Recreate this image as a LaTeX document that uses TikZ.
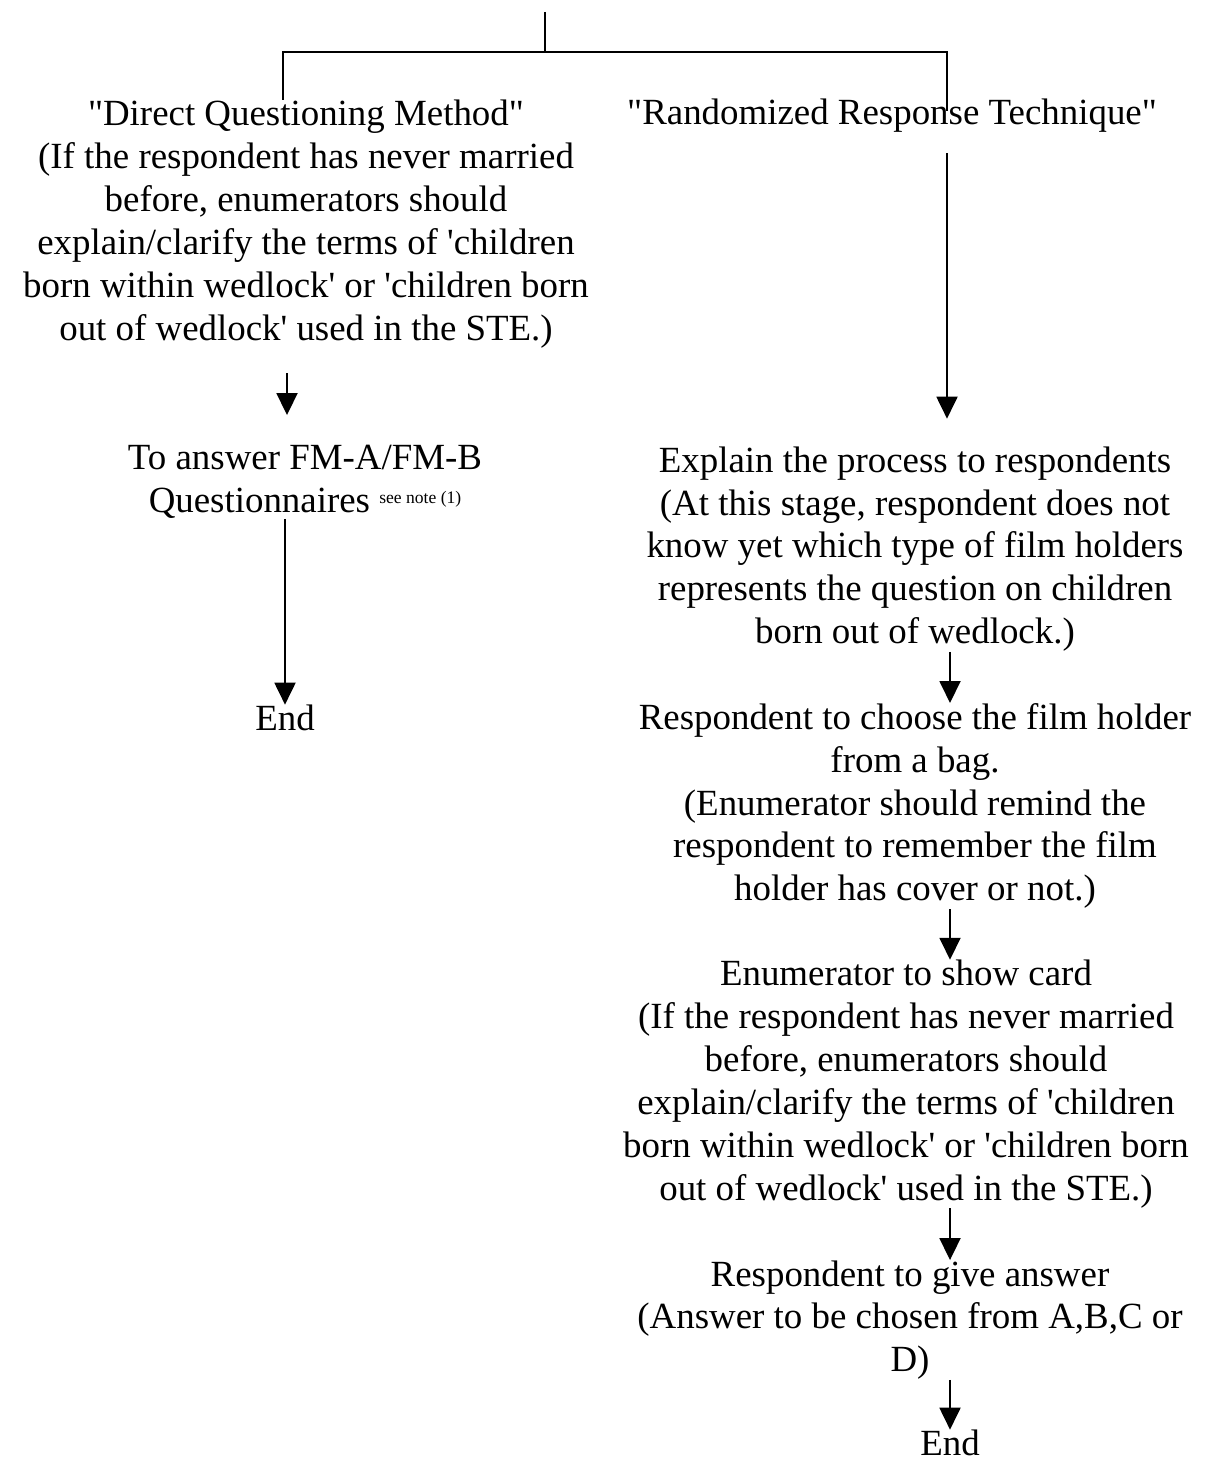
\documentclass[tikz,border=0pt]{standalone}
\usepackage{fontspec}
\setmainfont{Liberation Serif}[Ligatures=TeXOff]
\usetikzlibrary{arrows.meta}

\newcommand{\dq}{\symbol{34}}
\newcommand{\sq}{\symbol{39}}

\tikzset{
  txt/.style={align=center, inner sep=0pt, font=\fontsize{21pt}{24.4pt}\selectfont},
  flow/.style={line width=1.1pt, -{Triangle[length=0.44cm, width=0.42cm]}},
  branch/.style={line width=1.1pt}
}

\begin{document}
\begin{tikzpicture}[x=0.02cm, y=-0.02cm]
  \useasboundingbox (0,0) rectangle (1215,1463);

  % left branch
  \node[txt] (dq) at (306,224) {\dq Direct Questioning Method\dq\\(If the respondent has never married\\before, enumerators should\\explain/clarify the terms of \sq children\\born within wedlock\sq{} or \sq children born\\out of wedlock\sq{} used in the STE.)};
  \node[txt] (fm) at (305,482) {To answer FM-A/FM-B\\Questionnaires \raisebox{0.55ex}{\fontsize{10pt}{12pt}\selectfont see note (1)}};
  \node[txt] (endl) at (285,718) {End};

  % right branch
  \node[txt] (rr) at (892,116) {\dq Randomized Response Technique\dq};
  \node[txt] (ex) at (915,549) {Explain the process to respondents\\(At this stage, respondent does not\\know yet which type of film holders\\represents the question on children\\born out of wedlock.)};
  \node[txt] (ch) at (915,806) {Respondent to choose the film holder\\from a bag.\\(Enumerator should remind the\\respondent to remember the film\\holder has cover or not.)};
  \node[txt] (sc) at (906,1084) {Enumerator to show card\\(If the respondent has never married\\before, enumerators should\\explain/clarify the terms of \sq children\\born within wedlock\sq{} or \sq children born\\out of wedlock\sq{} used in the STE.)};
  \node[txt] (ga) at (910,1320) {Respondent to give answer\\(Answer to be chosen from A,B,C or\\D)};
  \node[txt] (endr) at (950,1443) {End};

  % split at the top
  \coordinate (top) at (545,12);
  \coordinate (split) at (545,52);
  \coordinate (lbr) at (283,52);
  \coordinate (rbr) at (947,52);
  \draw[branch] (top) -- (split);
  \draw[branch] (lbr |- dq.north) -- (lbr) -- (rbr) -- ([yshift=-0.24cm]rbr |- rr.north);

  % arrows
  \draw[flow, shorten <=0.5cm, shorten >=0.6cm] (dq.south -| 287,0) -- (fm.north -| 287,0);
  \draw[flow] (fm.south -| endl) -- (endl.north);
  \draw[flow, shorten <=0.4cm, shorten >=0.55cm] (rr.south -| rbr) -- (ex.north -| rbr);
  \draw[flow] (ex.south -| endr) -- (ch.north -| endr);
  \draw[flow] (ch.south -| endr) -- (sc.north -| endr);
  \draw[flow] (sc.south -| endr) -- (ga.north -| endr);
  \draw[flow] (ga.south -| endr) -- (endr.north);
\end{tikzpicture}
\end{document}
